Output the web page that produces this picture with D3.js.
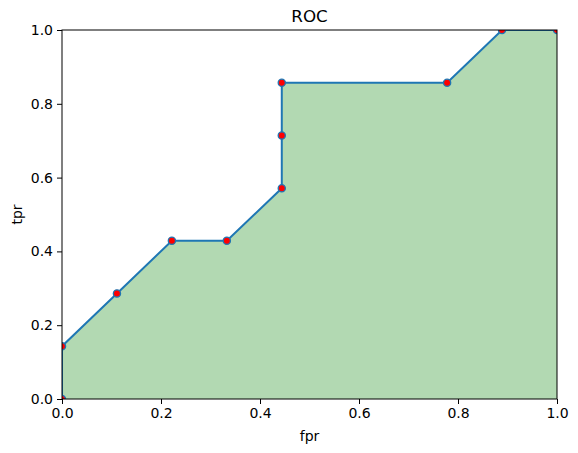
<!DOCTYPE html>
<html>
<head>
<meta charset="utf-8">
<script src="https://cdn.jsdelivr.net/npm/d3@7"></script>
<style>
  body { margin: 0; background: #fff; }
  text { font-family: "DejaVu Sans", sans-serif; }
</style>
</head>
<body>
<div id="chart"></div>
<script>
// Data
const fpr = [0, 0, 0.111, 0.222, 0.333, 0.444, 0.444, 0.444, 0.778, 0.889, 1.0]
const tpr = [0, 0.143, 0.286, 0.429, 0.429, 0.571, 0.714, 0.857, 0.857, 1.0, 1.0]
const ticks = [0, 0.2, 0.4, 0.6, 0.8, 1.0]

const dataset = fpr.map((f, i) => ({ fpr: f, tpr: tpr[i] }))

// Dimensions
const width = 578, height = 453
const margin = { left: 62, right: 21, top: 30, bottom: 54 }
const ctrWidth = width - margin.left - margin.right
const ctrHeight = height - margin.top - margin.bottom

const svg = d3.select('#chart').append('svg')
  .attr('width', width)
  .attr('height', height)

svg.append('defs').append('clipPath')
  .attr('id', 'clip')
  .append('rect')
  .attr('width', ctrWidth)
  .attr('height', ctrHeight)

const ctr = svg.append('g')
  .attr('transform', `translate(${margin.left}, ${margin.top})`)

// Scales
const xScale = d3.scaleLinear().domain([0, 1]).range([0, ctrWidth])
const yScale = d3.scaleLinear().domain([0, 1]).range([ctrHeight, 0])

const plot = ctr.append('g').attr('clip-path', 'url(#clip)')

// area under curve
const area = d3.area()
  .x(d => xScale(d.fpr))
  .y0(yScale(0))
  .y1(d => yScale(d.tpr))
plot.append('path')
  .datum(dataset)
  .attr('d', area)
  .attr('fill', 'green')
  .attr('fill-opacity', 0.3)

const line = d3.line()
  .x(d => xScale(d.fpr))
  .y(d => yScale(d.tpr))
plot.append('path')
  .datum(dataset)
  .attr('d', line)
  .attr('fill', 'none')
  .attr('stroke', '#1f77b4')
  .attr('stroke-width', 2)

plot.selectAll('circle')
  .data(dataset)
  .join('circle')
  .attr('cx', d => xScale(d.fpr))
  .attr('cy', d => yScale(d.tpr))
  .attr('r', 3.6)
  .attr('fill', 'red')
  .attr('stroke', '#1f77b4')
  .attr('stroke-width', 1.3)

// Axes
const fmt = d3.format('.1f')
const xAxis = d3.axisBottom(xScale).tickValues(ticks).tickFormat(fmt).tickSize(5).tickPadding(4)
const yAxis = d3.axisLeft(yScale).tickValues(ticks).tickFormat(fmt).tickSize(5).tickPadding(4)

const xg = ctr.append('g')
  .attr('transform', `translate(0, ${ctrHeight})`)
  .call(xAxis)
const yg = ctr.append('g').call(yAxis)

;[xg, yg].forEach(g => {
  g.select('.domain').remove()
  g.selectAll('.tick line').attr('stroke', '#000').attr('stroke-width', 1)
  g.selectAll('.tick text')
    .attr('fill', '#000')
    .style('font-size', '14px')
    .style('font-family', '"DejaVu Sans", sans-serif')
})

// frame
ctr.append('rect')
  .attr('width', ctrWidth)
  .attr('height', ctrHeight)
  .attr('fill', 'none')
  .attr('stroke', '#000')
  .attr('stroke-width', 1)

// Labels
svg.append('text')
  .attr('x', margin.left + ctrWidth / 2)
  .attr('y', margin.top - 8)
  .attr('text-anchor', 'middle')
  .style('font-size', '16.7px')
  .text('ROC')

svg.append('text')
  .attr('x', margin.left + ctrWidth / 2)
  .attr('y', height - 12)
  .attr('text-anchor', 'middle')
  .style('font-size', '14px')
  .text('fpr')

svg.append('text')
  .attr('transform', `translate(22, ${margin.top + ctrHeight / 2}) rotate(-90)`)
  .attr('text-anchor', 'middle')
  .style('font-size', '14px')
  .text('tpr')
</script>
</body>
</html>
